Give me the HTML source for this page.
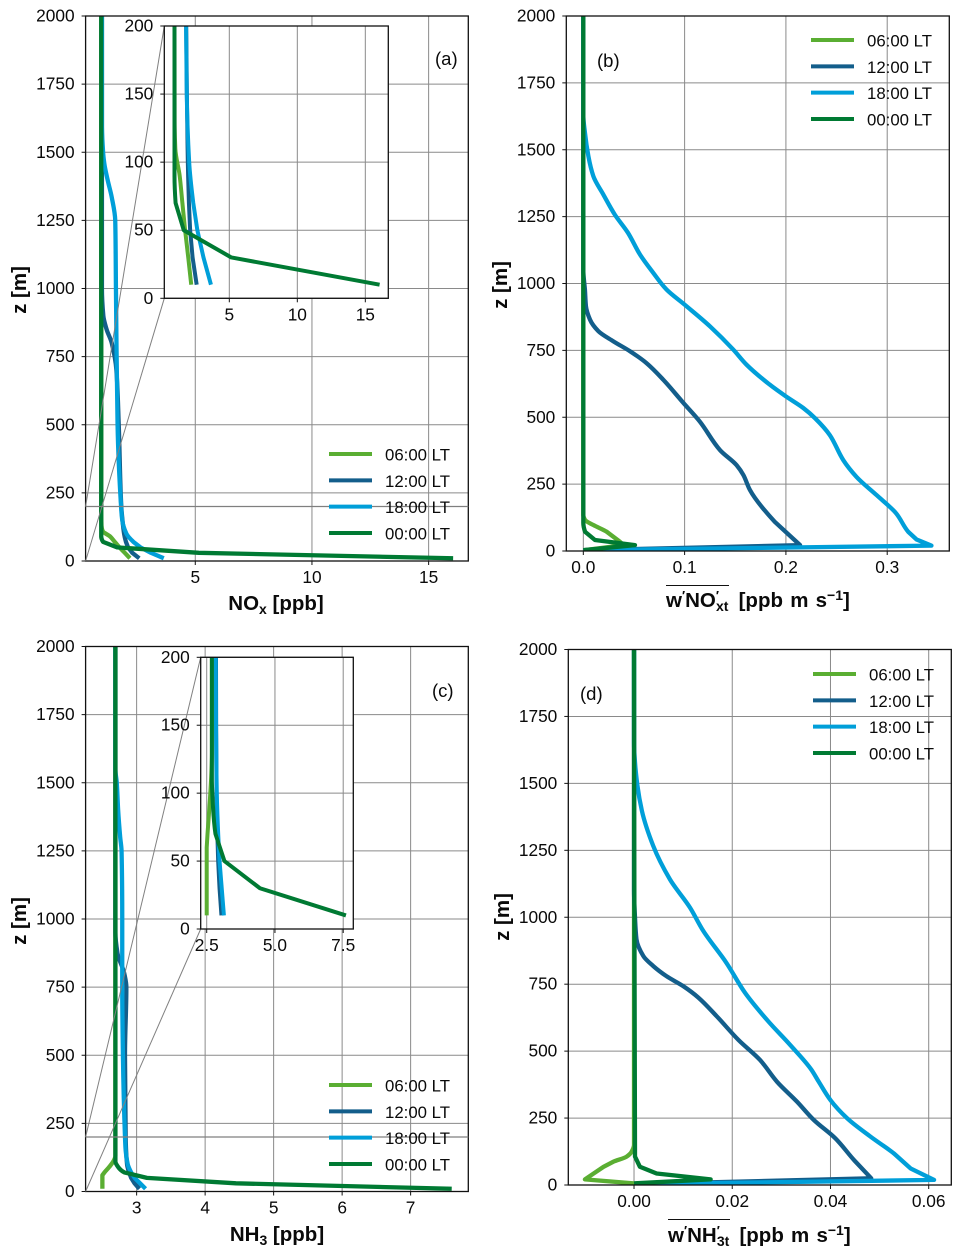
<!DOCTYPE html>
<html>
<head>
<meta charset="utf-8">
<title>Vertical profiles of NOx and NH3</title>
<style>
html,body{margin:0;padding:0;background:#fff;}
svg{display:block;}
text{font-family:"Liberation Sans",sans-serif;fill:#0a0a0a;}
.axis-title{font-weight:bold;font-size:20.5px;}
</style>
</head>
<body>
<svg id="figure" width="962" height="1256" viewBox="0 0 962 1256" xmlns="http://www.w3.org/2000/svg">
  <rect x="0" y="0" width="962" height="1256" fill="#fff"/>
  <g id="layer-marks"></g>

  <text class="axis-title" transform="translate(26,290) rotate(-90)" text-anchor="middle">z [m]</text>
  <text class="axis-title" transform="translate(507,285) rotate(-90)" text-anchor="middle">z [m]</text>
  <text class="axis-title" transform="translate(26,921) rotate(-90)" text-anchor="middle">z [m]</text>
  <text class="axis-title" transform="translate(509,917) rotate(-90)" text-anchor="middle">z [m]</text>

  <text class="axis-title" x="276" y="610" text-anchor="middle">NO<tspan font-size="14" dy="4">x</tspan><tspan dy="-4"> [ppb]</tspan></text>
  <text class="axis-title" x="277" y="1241" text-anchor="middle">NH<tspan font-size="14" dy="4">3</tspan><tspan dy="-4"> [ppb]</tspan></text>

  <text class="axis-title" x="666" y="607" word-spacing="1.5">w<tspan font-size="13" dy="-7">′</tspan><tspan dy="7">NO</tspan><tspan font-size="13" dy="-7">′</tspan><tspan font-size="14" dx="-3" dy="11">xt</tspan><tspan dx="3" dy="-4"> [ppb m s</tspan><tspan font-size="14" dy="-7">−1</tspan><tspan dy="7">]</tspan></text>
  <line x1="666" y1="585.5" x2="729" y2="585.5" stroke="#111" stroke-width="1"/>
  <text class="axis-title" x="668" y="1242" word-spacing="1.5">w<tspan font-size="13" dy="-7">′</tspan><tspan dy="7">NH</tspan><tspan font-size="13" dy="-7">′</tspan><tspan font-size="14" dx="-3" dy="11">3t</tspan><tspan dx="3" dy="-4"> [ppb m s</tspan><tspan font-size="14" dy="-7">−1</tspan><tspan dy="7">]</tspan></text>
  <line x1="668" y1="1219.5" x2="730" y2="1219.5" stroke="#111" stroke-width="1"/>

  <text x="435" y="65" font-size="18.5">(a)</text>
  <text x="597" y="67" font-size="18.5">(b)</text>
  <text x="432" y="697" font-size="18.5">(c)</text>
  <text x="580" y="700" font-size="18.5">(d)</text>
</svg>

<script>
// Series categories and tick labels
const seriesNames = ['06:00 LT', '12:00 LT', '18:00 LT', '00:00 LT'];
const zTicksMain = [0, 250, 500, 750, 1000, 1250, 1500, 1750, 2000];
const zTicksInset = [0, 50, 100, 150, 200];
const noxTicks = [5, 10, 15];
const noxTickLabels = ['5', '10', '15'];
const noxInsetTicks = [5, 10, 15];
const noxInsetTickLabels = ['5', '10', '15'];
const nh3Ticks = [3, 4, 5, 6, 7];
const nh3TickLabels = ['3', '4', '5', '6', '7'];
const nh3InsetTicks = [2.5, 5, 7.5];
const nh3InsetTickLabels = ['2.5', '5.0', '7.5'];
const fluxNoxTicks = [0, 0.1, 0.2, 0.3];
const fluxNoxTickLabels = ['0.0', '0.1', '0.2', '0.3'];
const fluxNh3Ticks = [0, 0.02, 0.04, 0.06];
const fluxNh3TickLabels = ['0.00', '0.02', '0.04', '0.06'];

// (a) NOx mixing ratio [ppb]
const noxZ06 = [10, 30, 50, 70, 90, 110, 130, 200, 1000, 2000];
const noxV06 = [2.2, 1.98, 1.75, 1.55, 1.35, 1.03, 0.98, 0.97, 0.97, 0.97];
const noxZ12 = [10, 30, 50, 70, 100, 150, 200, 500, 700, 800, 850, 900, 1000, 2000];
const noxV12 = [2.6, 2.3, 2.12, 2.03, 1.95, 1.88, 1.83, 1.72, 1.62, 1.42, 1.2, 1.06, 1.0, 1.0];
const noxZ18 = [10, 30, 50, 70, 100, 150, 200, 500, 1000, 1250, 1335, 1400, 1460, 1500, 1600, 2000];
const noxV18 = [3.65, 3.1, 2.65, 2.35, 2.05, 1.87, 1.82, 1.67, 1.6, 1.57, 1.42, 1.24, 1.1, 1.05, 1.0, 1.0];
const noxZ00 = [10, 30, 50, 70, 90, 110, 200, 2000];
const noxV00 = [16.05, 5.15, 1.65, 1.05, 0.97, 0.97, 0.97, 0.97];

// (c) NH3 mixing ratio [ppb]
const nh3Z06 = [10, 60, 70, 90, 115, 130, 2000];
const nh3V06 = [2.5, 2.5, 2.53, 2.6, 2.67, 2.69, 2.69];
const nh3Z12 = [10, 30, 50, 70, 100, 200, 500, 750, 800, 875, 950, 2000];
const nh3V12 = [3.04, 2.97, 2.92, 2.89, 2.86, 2.84, 2.83, 2.85, 2.82, 2.72, 2.69, 2.69];
const nh3Z18 = [10, 30, 50, 70, 100, 150, 200, 500, 750, 1000, 1250, 1300, 1400, 1500, 1550, 2000];
const nh3V18 = [3.13, 3.05, 2.97, 2.92, 2.87, 2.84, 2.83, 2.8, 2.79, 2.79, 2.78, 2.76, 2.73, 2.71, 2.69, 2.69];
const nh3Z00 = [10, 30, 50, 70, 90, 110, 2000];
const nh3V00 = [7.6, 4.45, 3.15, 2.82, 2.73, 2.69, 2.69];

// (b) NOx turbulent flux [ppb m/s]
const fluxNoxZ06 = [3, 22, 35, 72, 97, 116, 135, 2000];
const fluxNoxV06 = [0, 0.04, 0.036, 0.0231, 0.0099, 0.0017, 0, 0];
const fluxNoxZ12 = [3, 22, 109, 228, 284, 321, 377, 484, 554, 640, 702, 747, 784, 822, 865, 915, 976, 1050, 2000];
const fluxNoxV12 = [0, 0.214, 0.189, 0.1645, 0.158, 0.1513, 0.135, 0.115, 0.0987, 0.079, 0.0625, 0.046, 0.0296, 0.0148, 0.0066, 0.0026, 0.0016, 0, 0];
const fluxNoxZ18 = [3, 20, 43, 72, 140, 209, 277, 340, 433, 497, 535, 578, 622, 697, 753, 840, 921, 978, 1040, 1108, 1190, 1258, 1333, 1401, 1476, 1564, 1630, 2000];
const fluxNoxV18 = [0, 0.3437, 0.329, 0.3207, 0.309, 0.2895, 0.2697, 0.2566, 0.2434, 0.2286, 0.217, 0.2, 0.184, 0.161, 0.148, 0.125, 0.1, 0.082, 0.069, 0.056, 0.044, 0.031, 0.0197, 0.0099, 0.005, 0.0016, 0, 0];
const fluxNoxZ00 = [3, 22, 41, 72, 105, 2000];
const fluxNoxV00 = [0, 0.051, 0.0115, 0.0017, 0, 0];

// (d) NH3 turbulent flux [ppb m/s]
const fluxNh3Z06 = [6, 21, 68, 87, 106, 124, 150, 2000];
const fluxNh3V06 = [0, -0.01, -0.0062, -0.0042, -0.0015, -0.0005, 0, 0];
const fluxNh3Z12 = [3, 25, 93, 174, 243, 311, 386, 466, 541, 631, 700, 743, 780, 818, 855, 918, 1000, 1100, 2000];
const fluxNh3V12 = [0, 0.0483, 0.0448, 0.041, 0.0366, 0.0332, 0.0291, 0.0257, 0.0213, 0.0168, 0.0131, 0.01, 0.0066, 0.0039, 0.0019, 0.0005, 0.0002, 0, 0];
const fluxNh3Z18 = [3, 19, 62, 118, 180, 249, 317, 386, 431, 525, 612, 718, 830, 949, 1036, 1142, 1267, 1398, 1491, 1579, 1650, 2000];
const fluxNh3V18 = [0, 0.0611, 0.0563, 0.0529, 0.0482, 0.0434, 0.04, 0.0376, 0.0361, 0.0317, 0.0273, 0.0226, 0.0188, 0.0141, 0.0114, 0.0073, 0.0039, 0.0016, 0.0007, 0.0002, 0, 0];
const fluxNh3Z00 = [6, 21, 43, 68, 106, 2000];
const fluxNh3V00 = [0, 0.0156, 0.0046, 0.0012, 0.0002, 0];

const seriesColors = ['#5aae32', '#135e8b', '#009fd9', '#007a33'];
const smoothAboveZ = 70;
const NS = 'http://www.w3.org/2000/svg';
const root = document.getElementById('layer-marks');
let clipCount = 0;

function make(tag, attrs, parent) {
  const el = document.createElementNS(NS, tag);
  for (const k in attrs) el.setAttribute(k, attrs[k]);
  parent.appendChild(el);
  return el;
}

function linearScale(d0, d1, r0, r1) {
  return function (v) { return r0 + (v - d0) / (d1 - d0) * (r1 - r0); };
}

// Monotone cubic through the profile (x as a function of height), straight below smoothAboveZ
function profilePath(zs, vs, xScale, yScale) {
  const n = zs.length;
  const px = vs.map(xScale);
  const py = zs.map(yScale);
  const h = [];
  const d = [];
  for (let i = 0; i < n - 1; i++) {
    h.push(py[i + 1] - py[i]);
    d.push((px[i + 1] - px[i]) / h[i]);
  }
  const m = new Array(n).fill(0);
  m[0] = d[0];
  m[n - 1] = d[n - 2];
  for (let i = 1; i < n - 1; i++) {
    if (d[i - 1] * d[i] > 0) {
      const w1 = 2 * h[i] + h[i - 1];
      const w2 = h[i] + 2 * h[i - 1];
      m[i] = (w1 + w2) / (w1 / d[i - 1] + w2 / d[i]);
    }
  }
  let path = 'M' + px[0].toFixed(2) + ' ' + py[0].toFixed(2);
  for (let i = 0; i < n - 1; i++) {
    if (zs[i] < smoothAboveZ) {
      path += 'L' + px[i + 1].toFixed(2) + ' ' + py[i + 1].toFixed(2);
    } else {
      const c1x = px[i] + m[i] * h[i] / 3;
      const c1y = py[i] + h[i] / 3;
      const c2x = px[i + 1] - m[i + 1] * h[i] / 3;
      const c2y = py[i + 1] - h[i] / 3;
      path += 'C' + c1x.toFixed(2) + ' ' + c1y.toFixed(2) + ' ' + c2x.toFixed(2) + ' ' + c2y.toFixed(2) + ' ' + px[i + 1].toFixed(2) + ' ' + py[i + 1].toFixed(2);
    }
  }
  return path;
}

function drawAxes(group, box, xScale, yScale, xTicks, xLabels, zTicks, suffix, labelOffset) {
  const bg = make('rect', {x: box.l, y: box.t, width: box.r - box.l, height: box.b - box.t, fill: '#fff'}, group);
  
  
  xTicks.forEach(function (v, i) {
    const x = xScale(v);
    const grid = make('line', {x1: x, x2: x, y1: box.t, y2: box.b, stroke: '#8a8a8a', 'stroke-width': 1}, group);
    
    
    const tick = make('line', {x1: x, x2: x, y1: box.b, y2: box.b + 4, stroke: '#111', 'stroke-width': 1}, group);
    
    
    const label = make('text', {x: x, y: box.b + labelOffset, 'text-anchor': 'middle', 'font-size': 17.3}, group);
    
    
    label.textContent = xLabels[i];
  });
  zTicks.forEach(function (v) {
    const y = yScale(v);
    const grid = make('line', {x1: box.l, x2: box.r, y1: y, y2: y, stroke: '#8a8a8a', 'stroke-width': 1}, group);
    
    
    const tick = make('line', {x1: box.l - 4, x2: box.l, y1: y, y2: y, stroke: '#111', 'stroke-width': 1}, group);
    
    
    const label = make('text', {x: box.l - 11, y: y + 5.5, 'text-anchor': 'end', 'font-size': 17.3}, group);
    
    
    label.textContent = String(v);
  });
}

function drawSeries(group, box, xScale, yScale, series, suffix, width) {
  clipCount += 1;
  const clipId = 'clip-' + clipCount;
  const clip = make('clipPath', {id: clipId}, group);
  make('rect', {x: box.l, y: box.t, width: box.r - box.l, height: box.b - box.t}, clip);
  series.forEach(function (s, i) {
    const line = make('path', {d: profilePath(s.z, s.v, xScale, yScale), fill: 'none', stroke: seriesColors[i], 'stroke-width': width, 'stroke-linejoin': 'round', 'clip-path': 'url(#' + clipId + ')'}, group);
    
    
  });
}

function drawSpine(group, box, suffix) {
  const spine = make('rect', {x: box.l, y: box.t, width: box.r - box.l, height: box.b - box.t, fill: 'none', stroke: '#111', 'stroke-width': 1.3}, group);
  
  
}

function drawLegend(group, lineLeft, rowYs, suffix) {
  seriesNames.forEach(function (name, i) {
    const y = rowYs[0] + (rowYs[1] - rowYs[0]) * i / 3;
    const swatch = make('line', {x1: lineLeft, x2: lineLeft + 43, y1: y, y2: y, stroke: seriesColors[i], 'stroke-width': 4}, group);
    
    
    const text = make('text', {x: lineLeft + 56, y: y + 6.5, 'font-size': 16.8}, group);
    
    
    text.textContent = name;
  });
}

function drawPanel(cfg) {
  const group = make('g', {}, root);
  
  
  const box = cfg.box;
  const xScale = linearScale(cfg.xMin, cfg.xMax, box.l, box.r);
  const yScale = linearScale(0, 2000, box.b, box.t);
  drawAxes(group, box, xScale, yScale, cfg.xTicks, cfg.xLabels, zTicksMain, cfg.id, 22);
  drawSeries(group, box, xScale, yScale, cfg.series, cfg.id, 4.3);
  drawSpine(group, box, cfg.id);

  if (cfg.inset) {
    const ib = cfg.inset.box;
    const zoomY = yScale(200);
    const band = make('line', {x1: box.l, x2: box.r, y1: zoomY, y2: zoomY, stroke: '#7f7f7f', 'stroke-width': 1.3}, group);
    
    
    const c1 = make('line', {x1: box.l, y1: zoomY, x2: ib.l, y2: ib.t, stroke: '#808080', 'stroke-width': 1}, group);
    
    
    const c2 = make('line', {x1: box.l, y1: box.b, x2: ib.l, y2: ib.b, stroke: '#808080', 'stroke-width': 1}, group);
    
    
    const insetGroup = make('g', {}, group);
    
    
    const ix = linearScale(cfg.inset.xMin, cfg.inset.xMax, ib.l, ib.r);
    const iy = linearScale(0, 200, ib.b, ib.t);
    drawAxes(insetGroup, ib, ix, iy, cfg.inset.xTicks, cfg.inset.xLabels, zTicksInset, 'inset-' + cfg.id, 22);
    drawSeries(insetGroup, ib, ix, iy, cfg.series, 'inset-' + cfg.id, 4);
    drawSpine(insetGroup, ib, 'inset-' + cfg.id);
  }
  drawLegend(group, cfg.legendX, cfg.legendY, cfg.id);
}

drawPanel({
  id: 'a', box: {l: 85.6, r: 468.3, t: 16, b: 561}, xMin: 0.3, xMax: 16.7,
  xTicks: noxTicks, xLabels: noxTickLabels,
  series: [{z: noxZ06, v: noxV06}, {z: noxZ12, v: noxV12}, {z: noxZ18, v: noxV18}, {z: noxZ00, v: noxV00}],
  inset: {box: {l: 164.3, r: 388.3, t: 26, b: 298.3}, xMin: 0.22, xMax: 16.69, xTicks: noxInsetTicks, xLabels: noxInsetTickLabels},
  legendX: 329, legendY: [454, 533]
});
drawPanel({
  id: 'b', box: {l: 566.3, r: 949.3, t: 16, b: 551}, xMin: -0.0168, xMax: 0.3613,
  xTicks: fluxNoxTicks, xLabels: fluxNoxTickLabels,
  series: [{z: fluxNoxZ06, v: fluxNoxV06}, {z: fluxNoxZ12, v: fluxNoxV12}, {z: fluxNoxZ18, v: fluxNoxV18}, {z: fluxNoxZ00, v: fluxNoxV00}],
  legendX: 811, legendY: [40, 119]
});
drawPanel({
  id: 'c', box: {l: 85.6, r: 468.3, t: 646.5, b: 1191.5}, xMin: 2.255, xMax: 7.842,
  xTicks: nh3Ticks, xLabels: nh3TickLabels,
  series: [{z: nh3Z06, v: nh3V06}, {z: nh3Z12, v: nh3V12}, {z: nh3Z18, v: nh3V18}, {z: nh3Z00, v: nh3V00}],
  inset: {box: {l: 200.7, r: 353.3, t: 657.3, b: 929}, xMin: 2.28, xMax: 7.87, xTicks: nh3InsetTicks, xLabels: nh3InsetTickLabels},
  legendX: 329, legendY: [1085, 1164]
});
drawPanel({
  id: 'd', box: {l: 568.3, r: 951.3, t: 649.5, b: 1185}, xMin: -0.01338, xMax: 0.0646,
  xTicks: fluxNh3Ticks, xLabels: fluxNh3TickLabels,
  series: [{z: fluxNh3Z06, v: fluxNh3V06}, {z: fluxNh3Z12, v: fluxNh3V12}, {z: fluxNh3Z18, v: fluxNh3V18}, {z: fluxNh3Z00, v: fluxNh3V00}],
  legendX: 813, legendY: [674, 753]
});
</script>
</body>
</html>
